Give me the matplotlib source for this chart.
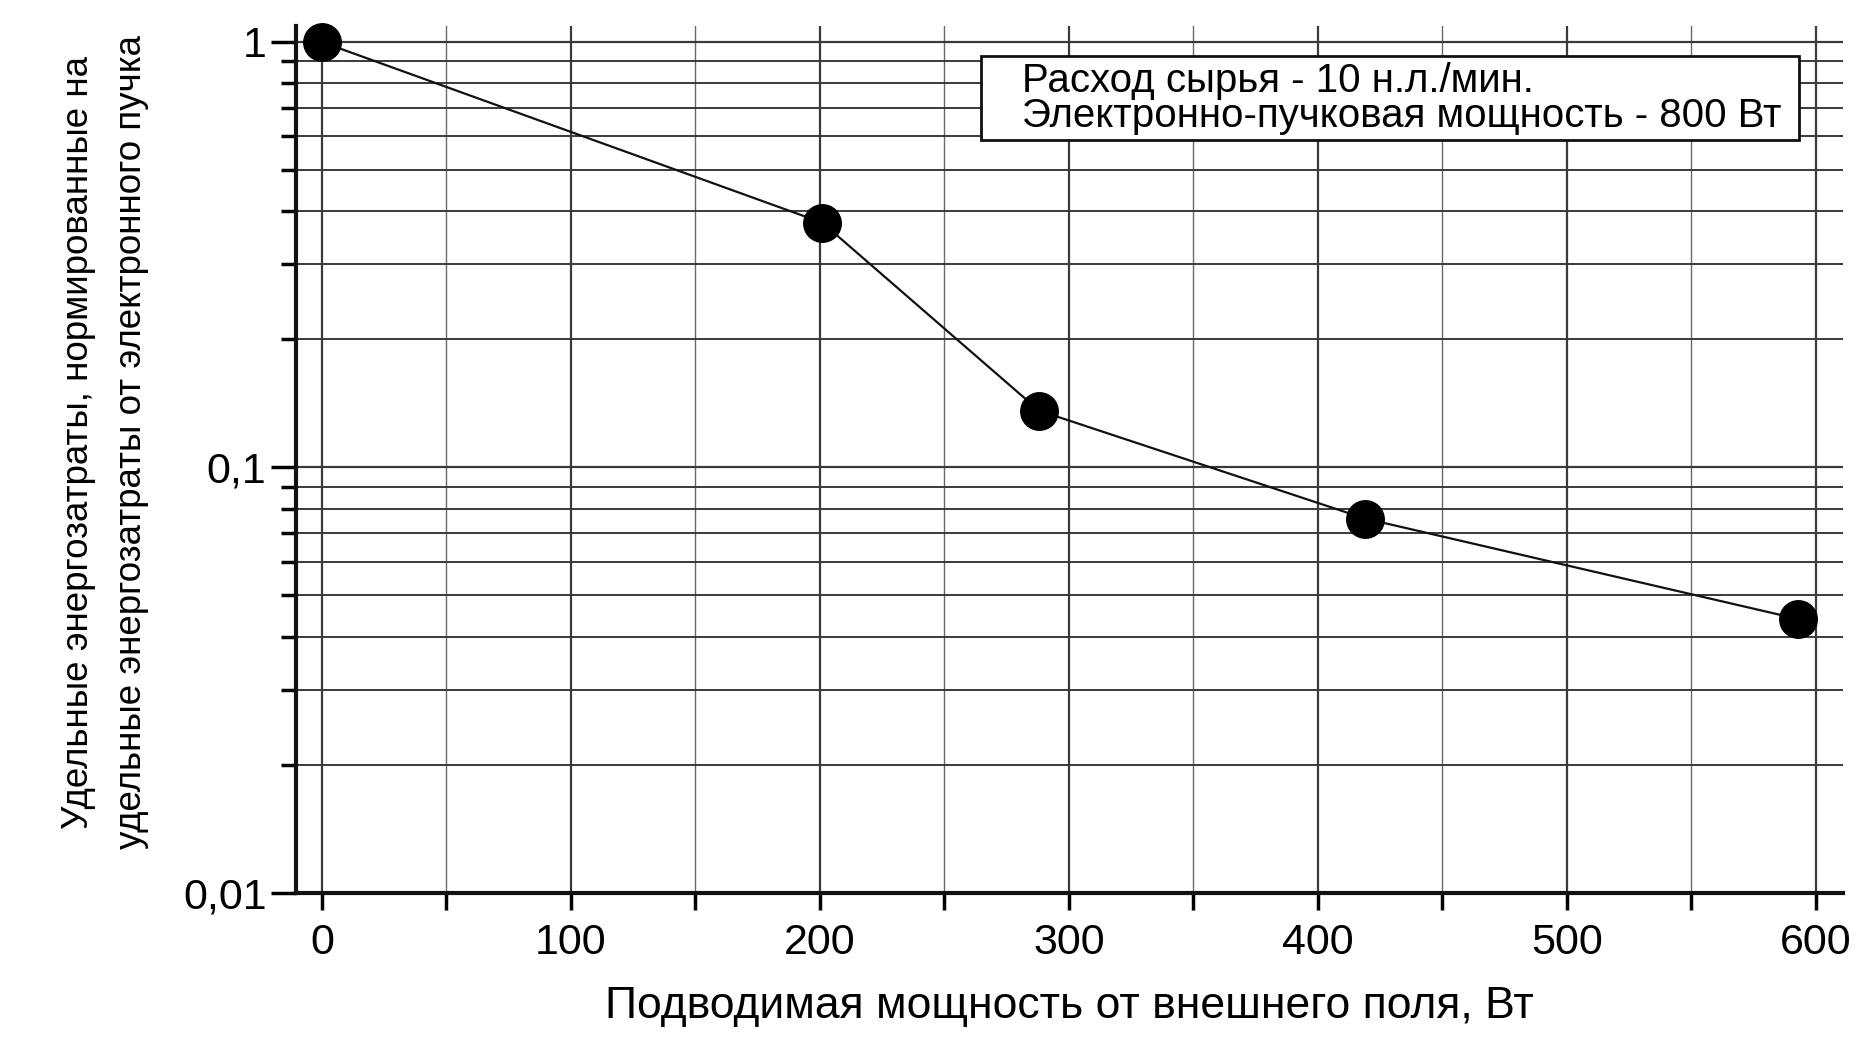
import numpy as np
import matplotlib
matplotlib.use('Agg')
import matplotlib.pyplot as plt
from matplotlib.ticker import FixedLocator, NullFormatter
from matplotlib.patches import Rectangle

plt.rcParams['font.family'] = ['Liberation Sans', 'DejaVu Sans']

# данные
power = [0, 201, 288, 419, 593]
energy = [1.0, 0.376, 0.136, 0.0758, 0.044]
x_major = [0, 100, 200, 300, 400, 500, 600]
x_minor = [50, 150, 250, 350, 450, 550]
y_major = [0.01, 0.1, 1]
y_major_labels = ['0,01', '0,1', '1']
note_lines = ['Расход сырья - 10 н.л./мин.',
              'Электронно-пучковая мощность - 800 Вт']

fig = plt.figure(figsize=(18.6, 10.43), dpi=100)
ax = fig.add_axes([0.159, 0.144, 0.832, 0.831])

ax.set_yscale('log')
ax.set_xlim(-10.5, 611)
ax.set_ylim(0.01, 1.09)

ax.xaxis.set_major_locator(FixedLocator(x_major))
ax.xaxis.set_minor_locator(FixedLocator(x_minor))
ax.set_yticks(y_major)
ax.set_yticklabels(y_major_labels)
minors = [m * d for d in (0.01, 0.1) for m in range(2, 10)]
ax.yaxis.set_minor_locator(FixedLocator(minors))
ax.yaxis.set_minor_formatter(NullFormatter())

# сетка
ax.grid(which='major', axis='both', color='#3a3a3a', lw=1.6)
ax.grid(which='minor', axis='y', color='#3a3a3a', lw=1.4)
ax.grid(which='minor', axis='x', color='#6a6a6a', lw=1.0)

for s in ['top', 'right']:
    ax.spines[s].set_visible(False)
for s in ['left', 'bottom']:
    ax.spines[s].set_linewidth(3)
    ax.spines[s].set_color('#111111')

ax.tick_params(axis='y', which='major', length=18, width=2.5, labelsize=31, pad=3)
ax.tick_params(axis='y', which='minor', length=11, width=2.5)
ax.tick_params(axis='x', which='both', length=12, width=2.5, labelsize=31, pad=10)

ax.plot(power, energy, '-', color='#111111', lw=1.6, zorder=3)
ax.plot(power, energy, 'o', color='black', markersize=27, zorder=4, clip_on=False)

ax.set_xlabel('Подводимая мощность от внешнего поля, Вт', fontsize=32, labelpad=16)
ax.set_ylabel('Удельные энергозатраты, нормированные на\nудельные энергозатраты от электронного пучка',
              fontsize=26.5, linespacing=1.65)
ax.yaxis.set_label_coords(-0.095, 0.52)

# рамка с подписью
ax.add_patch(Rectangle((0.443, 0.869), 0.5286, 0.096, transform=ax.transAxes,
                       facecolor='white', edgecolor='#111111', lw=2, zorder=5))
ax.text(0.469, 0.937, note_lines[0], transform=ax.transAxes, fontsize=29,
        ha='left', va='center', zorder=6)
ax.text(0.469, 0.896, note_lines[1], transform=ax.transAxes, fontsize=29,
        ha='left', va='center', zorder=6)

fig.savefig('out.png', dpi=100, facecolor='white')
